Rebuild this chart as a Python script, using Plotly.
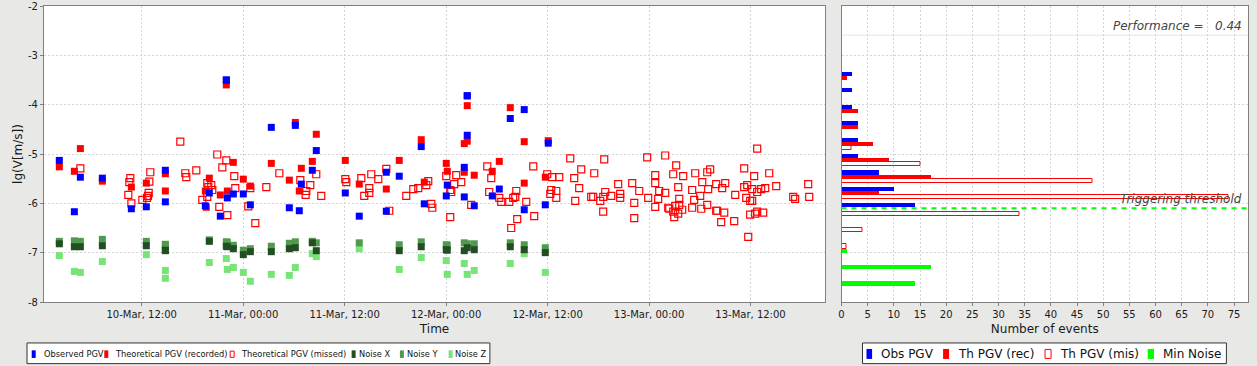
import plotly.graph_objects as go
from datetime import datetime, timedelta

# ---------------- data (hours since 10-Mar 00:00, lg(V[m/s])) ----------------
BASE = datetime(2011, 3, 10, 0, 0)

obs_hours = [2.26, 4.04, 4.75, 7.35, 10.78, 12.55, 14.80, 14.80,
             22.01, 22.01, 27.33, 30.17, 20.00, 19.53, 21.30, 22.13, 22.84, 24.02, 24.85, 29.46, 30.64, 30.88,
             32.65, 32.18, 36.08, 37.73, 40.93, 42.46, 40.93, 45.06, 45.42,
             50.50, 50.50, 55.59, 57.24, 50.50, 60.08, 50.15, 48.14, 48.02, 50.15, 51.33, 54.29, 53.46, 57.24, 59.73]
obs_lg = [-5.13, -6.17, -5.47, -5.49, -6.11, -6.07, -5.33, -5.97,
          -3.50, -3.50, -4.46, -4.42, -5.79, -6.05, -6.26, -5.89, -5.81, -5.81, -6.03, -6.09, -6.15, -5.61,
          -4.93, -5.33, -5.79, -6.26, -5.37, -5.45, -6.16, -4.85, -6.01,
          -3.82, -3.82, -4.28, -4.10, -4.62, -4.78, -5.27, -5.63, -5.85, -5.87, -6.05, -5.71, -5.85, -6.13, -6.03]

rec_hours = [2.26, 4.04, 4.75, 7.35, 10.78, 12.55, 14.80, 14.80,
             22.01, 30.17, 22.84, 27.33, 30.88, 20.00, 24.02, 29.46, 24.85, 19.53, 21.30, 22.13, 30.64, 19.64,
             32.65, 32.18, 36.08, 37.73, 40.93, 42.46, 45.06, 45.42,
             50.50, 55.59, 50.15, 50.50, 57.24, 60.08, 48.02, 48.14, 54.29, 53.46, 50.15, 51.33, 57.24, 59.73]
rec_lg = [-5.26, -5.35, -4.89, -5.55, -5.67, -5.59, -5.40, -5.75,
          -3.60, -4.36, -5.17, -5.19, -5.29, -5.49, -5.51, -5.53, -5.65, -5.75, -5.83, -5.75, -5.75, -6.08,
          -4.60, -5.15, -5.13, -5.61, -5.71, -5.13, -4.71, -5.57,
          -4.02, -4.06, -4.79, -4.74, -4.75, -4.73, -5.19, -5.35, -5.15, -5.35, -5.37, -5.43, -5.59, -5.47]

mis_hours = [4.75, 10.66, 10.54, 10.42, 10.78, 12.08, 12.63, 12.75, 12.83, 13.02, 12.91,
             16.57, 20.94, 22.01, 21.54, 17.16, 17.28, 18.46, 22.95, 19.76, 20.23, 19.88, 20.35, 23.07,
             24.85, 26.74, 28.28, 30.76, 19.17, 19.76, 21.18, 22.13, 24.61, 25.44,
             32.65, 31.94, 31.47, 31.39, 33.24, 36.08, 36.20, 37.97, 39.15, 39.98, 38.92, 38.92, 38.32,
             40.93, 41.28, 43.29, 44.12, 44.71, 45.66, 45.89, 46.25, 46.37,
             48.02, 49.20, 48.96, 49.79, 48.49, 48.61, 48.49, 50.97, 52.87, 53.34, 53.10, 54.29, 54.52,
             55.47, 55.94, 56.18, 56.30, 57.48, 56.41, 55.70, 58.31, 58.42, 59.96, 60.55, 61.38, 60.43,
             61.03, 60.32, 61.03,
             62.68, 66.70, 71.78, 73.91, 63.98, 63.15, 65.52, 63.74, 63.27, 65.16, 65.40, 66.23, 66.58,
             66.82, 66.58, 67.53, 68.35, 68.59, 68.59, 70.01, 70.84, 70.25, 70.25, 71.90, 72.73, 72.73,
             73.20, 73.08, 73.91, 72.73, 75.21, 74.86, 76.04, 75.45, 75.57, 74.27, 74.39, 74.86, 75.10,
             75.57, 75.45, 75.92, 74.98, 77.10, 77.46, 77.10, 77.34,
             84.79, 83.25, 84.43, 86.21, 79.23, 78.88, 78.29, 79.94, 81.01, 78.99, 80.65, 83.25, 83.61,
             84.20, 85.26, 85.74, 87.04, 84.79, 82.19, 78.05, 83.49, 83.96, 84.20, 78.88, 78.17, 79.94,
             80.06, 80.89, 84.79, 84.55, 83.96, 85.50, 80.53, 82.07, 83.73, 89.05, 89.28, 90.82, 90.94]
mis_lg = [-5.29, -5.49, -5.57, -5.83, -6.00, -5.93, -5.89, -5.85, -5.79, -5.37, -5.56,
          -4.75, -5.01, -5.13, -5.27, -5.39, -5.47, -5.33, -5.45, -5.59, -5.63, -5.67, -5.73, -5.69,
          -5.69, -5.67, -5.39, -5.53, -5.93, -5.87, -6.07, -6.24, -6.06, -6.40,
          -5.41, -5.63, -5.75, -5.83, -5.85, -5.51, -5.57, -5.49, -5.41, -5.51, -5.69, -5.79, -5.85,
          -5.30, -6.15, -5.85, -5.71, -5.69, -5.63, -5.55, -6.01, -6.09,
          -5.45, -5.43, -5.61, -5.57, -5.73, -5.77, -6.28, -6.03, -5.25, -5.49, -5.77, -5.89, -5.97,
          -5.97, -5.89, -5.87, -5.75, -5.97, -6.32, -6.50, -5.25, -6.26, -5.41, -5.47, -5.47, -5.73,
          -5.75, -5.81, -5.89,
          -5.09, -5.11, -5.07, -5.03, -5.31, -5.49, -5.39, -5.69, -5.95, -5.87, -5.87, -5.95, -5.87,
          -5.77, -6.17, -5.85, -5.61, -5.81, -5.89, -5.59, -5.75, -5.99, -6.30, -5.89, -5.43, -5.59,
          -5.75, -5.91, -5.79, -6.07, -5.23, -5.41, -5.45, -5.67, -5.91, -6.09, -6.11, -6.17, -6.05,
          -6.03, -6.21, -6.13, -6.28, -5.73, -5.39, -6.09, -5.93,
          -4.89, -5.29, -5.45, -5.39, -5.31, -5.37, -5.57, -5.61, -5.59, -5.71, -5.69, -5.67, -5.63,
          -5.71, -5.71, -5.69, -5.65, -5.77, -5.83, -5.85, -5.89, -5.95, -5.95, -6.03, -6.11, -6.15,
          -6.15, -6.19, -6.17, -6.21, -6.23, -6.19, -6.38, -6.36, -6.68, -5.87, -5.91, -5.61, -5.87]

noise_hours = [2.26, 4.04, 4.75, 7.35, 12.55, 14.80, 14.80, 20.00, 22.01, 22.13, 22.84, 24.02, 24.85,
               27.33, 29.46, 30.17, 32.18, 32.65, 37.73, 42.46, 45.06, 48.02, 48.14, 50.15, 50.50,
               51.33, 55.59, 57.24, 59.73]
noise_x = [-6.82, -6.88, -6.88, -6.86, -6.86, -6.95, -6.96, -6.77, -6.87, -6.88, -6.92, -7.04, -6.98,
           -6.98, -6.92, -6.90, -6.80, -6.96, None, -6.96, -6.88, -6.94, -6.95, -6.96, -6.90,
           -6.94, -6.88, -6.94, -7.00]
noise_y = [-6.77, -6.76, -6.77, -6.73, -6.77, -6.83, -6.84, -6.74, -6.78, -6.79, -6.85, -6.95, -6.92,
           -6.87, -6.81, -6.78, -6.77, -6.80, -6.80, -6.84, -6.78, -6.84, -6.85, -6.80, -6.82,
           -6.82, -6.80, -6.84, -6.90]
noise_z = [-7.06, -7.38, -7.40, -7.18, -7.04, -7.36, -7.52, -7.20, -7.12, -7.34, -7.30, -7.40, -7.58,
           -7.44, -7.46, -7.30, -7.02, -7.08, -6.92, -7.34, -7.10, -7.16, -7.44, -7.22, -7.44,
           -7.36, -7.22, -7.02, -7.40]

# histogram (bins of 1/3 in lg units)
hist_bins = [-3.5, -3.8333, -4.1667, -4.5, -4.8333, -5.1667, -5.5, -5.8333, -6.1667,
             -6.5, -6.8333, -7.1667, -7.5]
hist_obs = [2, 2, 2, 3, 3, 3, 7, 10, 14, 0, 0, 0, 0]
hist_rec = [1, 0, 3, 3, 6, 9, 17, 7, 0, 0, 0, 0, 0]
hist_mis = [0, 0, 0, 0, 2, 15, 48, 74, 34, 4, 1, 0, 0]
hist_noise = [0, 0, 0, 0, 0, 0, 0, 0, 0, 0, 1, 17, 14]

threshold = -6.1
performance = 0.44

x_tick_hours = [12, 24, 36, 48, 60, 72, 84]
y_ticks = [-8, -7, -6, -5, -4, -3, -2]
y_tick_labels = ["-8", "-7", "-6", "-5", "-4", "-3", "-2"]
hist_ticks = list(range(0, 80, 5))

# ---------------- styling ----------------
C_OBS = "#0000ff"
C_REC = "#ff0000"
C_NX = "#234d23"
C_NY = "#4f9a4f"
C_NZ = "#78e478"
C_MIN = "#00ff00"
BG = "#e8e8e6"
GRID = "#d4d4d4"
FONT = "DejaVu Sans"


def to_time(hours):
    return [None if h is None else BASE + timedelta(hours=h) for h in hours]


def nz(vals):
    return [v if v else None for v in vals]


fig = go.Figure()

# scatter traces (reverse order so that Observed is drawn on top)
fig.add_trace(go.Scatter(x=to_time(noise_hours), y=noise_z, mode="markers", name="Noise Z",
                         marker=dict(symbol="square", size=7, color=C_NZ, line=dict(width=0))))
fig.add_trace(go.Scatter(x=to_time(noise_hours), y=noise_y, mode="markers", name="Noise Y",
                         marker=dict(symbol="square", size=7, color=C_NY, line=dict(width=0))))
fig.add_trace(go.Scatter(x=to_time(noise_hours), y=noise_x, mode="markers", name="Noise X",
                         marker=dict(symbol="square", size=7, color=C_NX, line=dict(width=0))))
fig.add_trace(go.Scatter(x=to_time(mis_hours), y=mis_lg, mode="markers", name="Theoretical PGV (missed)",
                         marker=dict(symbol="square-open", size=7, color=C_REC, line=dict(width=1.2))))
fig.add_trace(go.Scatter(x=to_time(rec_hours), y=rec_lg, mode="markers", name="Theoretical PGV (recorded)",
                         marker=dict(symbol="square", size=7, color=C_REC, line=dict(width=0))))
fig.add_trace(go.Scatter(x=to_time(obs_hours), y=obs_lg, mode="markers", name="Observed PGV",
                         marker=dict(symbol="square", size=7, color=C_OBS, line=dict(width=0))))

# histogram traces (grouped, blue on top)
fig.add_trace(go.Bar(x=nz(hist_noise), y=hist_bins, orientation="h", name="Min Noise",
                     marker=dict(color=C_MIN, line=dict(width=0)), xaxis="x2", yaxis="y2"))
fig.add_trace(go.Bar(x=nz(hist_mis), y=hist_bins, orientation="h", name="Th PGV (mis)",
                     marker=dict(color="rgba(255,255,255,0)", line=dict(width=1, color=C_REC)),
                     xaxis="x2", yaxis="y2"))
fig.add_trace(go.Bar(x=nz(hist_rec), y=hist_bins, orientation="h", name="Th PGV (rec)",
                     marker=dict(color=C_REC, line=dict(width=0)), xaxis="x2", yaxis="y2"))
fig.add_trace(go.Bar(x=nz(hist_obs), y=hist_bins, orientation="h", name="Obs PGV",
                     marker=dict(color=C_OBS, line=dict(width=0)), xaxis="x2", yaxis="y2"))

tick_font = dict(family=FONT, size=10, color="#1a1a1a")
axis_common = dict(showline=True, linecolor="#808080", linewidth=1, mirror=True,
                   showgrid=True, gridcolor=GRID, griddash="2px,2px", gridwidth=1,
                   zeroline=False, tickfont=tick_font, automargin=False)

X_SPLIT0 = (825.3 - 44) / 1204.3
X_SPLIT1 = (841.7 - 44) / 1204.3

fig.update_layout(
    width=1257, height=366,
    margin=dict(l=44, r=9, t=6, b=64, autoexpand=False),
    paper_bgcolor=BG, plot_bgcolor="white",
    showlegend=False,
    barmode="group", bargap=0, bargroupgap=0,
    font=dict(family=FONT, size=11, color="#1a1a1a"),
    xaxis=dict(domain=[0, X_SPLIT0], type="date",
               range=[BASE + timedelta(hours=0.45), BASE + timedelta(hours=92.82)],
               tickvals=to_time(x_tick_hours), tickformat="%d-%b, %H:%M",
               ticks="outside", ticklen=3, tickcolor="#808080",
               title=dict(text="Time", font=dict(family=FONT, size=12), standoff=5),
               **axis_common),
    yaxis=dict(range=[-8, -2], tickvals=y_ticks, ticktext=y_tick_labels,
               ticks="outside", ticklen=3, tickcolor="#808080",
               title=dict(text="lg(V[m/s])", font=dict(family=FONT, size=12), standoff=2),
               **axis_common),
    xaxis2=dict(domain=[X_SPLIT1, 1], anchor="y2", range=[0, 77.67], tickvals=hist_ticks,
                ticks="outside", ticklen=3, tickcolor="#808080",
                title=dict(text="Number of events", font=dict(family=FONT, size=12), standoff=5),
                **axis_common),
    yaxis2=dict(anchor="x2", matches="y", range=[-8, -2], tickvals=y_ticks,
                showticklabels=False, ticks="", **axis_common),
)

# threshold line and faint upper line on histogram
fig.add_shape(type="line", xref="x2 domain", yref="y2", x0=0, x1=1, y0=threshold, y1=threshold,
              line=dict(color=C_MIN, width=2, dash="5px,5px"), layer="above")
fig.add_shape(type="line", xref="x2 domain", yref="y2", x0=0, x1=1, y0=-2.59, y1=-2.59,
              line=dict(color="#e4e4e4", width=1), layer="below")

ann_font = dict(family=FONT, size=12, color="#444444", style="italic")
fig.add_annotation(xref="x2 domain", yref="y2 domain", x=0.99, y=1 - 19.7 / 296.3,
                   xanchor="right", yanchor="middle", showarrow=False,
                   text="Performance =\u00a0\u00a0\u00a0" + f"{performance:.2f}", font=ann_font)
fig.add_annotation(xref="x2 domain", yref="y2", x=0.99, y=threshold,
                   xanchor="right", yanchor="bottom", showarrow=False,
                   text="Triggering threshold", font=ann_font)

# ---------------- legends (drawn boxes) ----------------
def px_x(px):
    return (px - 44.0) / 1204.3


def px_y(py):
    return (302.3 - py) / 296.3


def legend_box(x0, x1, y0, y1):
    fig.add_shape(type="rect", xref="paper", yref="paper",
                  x0=px_x(x0), x1=px_x(x1), y0=px_y(y1), y1=px_y(y0),
                  line=dict(color="#333333", width=1), fillcolor="white", layer="above")


def legend_item(mx0, mx1, my0, my1, color, filled, tx, text, fsize, family):
    fig.add_shape(type="rect", xref="paper", yref="paper",
                  x0=px_x(mx0), x1=px_x(mx1), y0=px_y(my1), y1=px_y(my0),
                  line=dict(color=color, width=1 if not filled else 0),
                  fillcolor=color if filled else "white", layer="above")
    fig.add_annotation(xref="paper", yref="paper", x=px_x(tx), y=px_y(354.0),
                       xanchor="left", yanchor="middle", showarrow=False, text=text,
                       font=dict(family=family, size=fsize, color="#111111"), borderpad=0)


legend_box(27, 490, 343.3, 364)
LF = "DejaVu Sans Condensed, Liberation Sans Narrow, Liberation Sans"
LS = 9.2
legend_item(31.7, 35.7, 350.7, 358.3, C_OBS, True, 42.5, "Observed PGV", LS, LF)
legend_item(104.3, 108.3, 350.7, 358.3, C_REC, True, 114.0, "Theoretical PGV (recorded)", LS, LF)
legend_item(230.2, 234.2, 351.5, 357.7, C_REC, False, 239.6, "Theoretical PGV (missed)", LS, LF)
legend_item(351.7, 355.7, 350.7, 358.3, C_NX, True, 357.6, "Noise X", LS, LF)
legend_item(400.0, 404.0, 350.7, 358.3, C_NY, True, 406.3, "Noise Y", LS, LF)
legend_item(448.7, 452.7, 350.7, 358.3, C_NZ, True, 454.6, "Noise Z", LS, LF)

legend_box(862.7, 1226.7, 343.3, 364)
legend_item(866.7, 872.3, 349.3, 359.3, C_OBS, True, 880.5, "Obs PGV", 12, FONT)
legend_item(943.3, 949.3, 349.3, 359.3, C_REC, True, 957.0, "Th PGV (rec)", 12, FONT)
legend_item(1045.3, 1051.3, 349.8, 358.8, C_REC, False, 1058.8, "Th PGV (mis)", 12, FONT)
legend_item(1148.0, 1154.3, 349.3, 359.3, C_MIN, True, 1162.0, "Min Noise", 12, FONT)

fig.write_html("out.html",
               config={"displayModeBar": False},
               post_script="document.body.style.margin='0px';document.body.style.padding='0px';"
                           "document.body.style.overflow='hidden';")
